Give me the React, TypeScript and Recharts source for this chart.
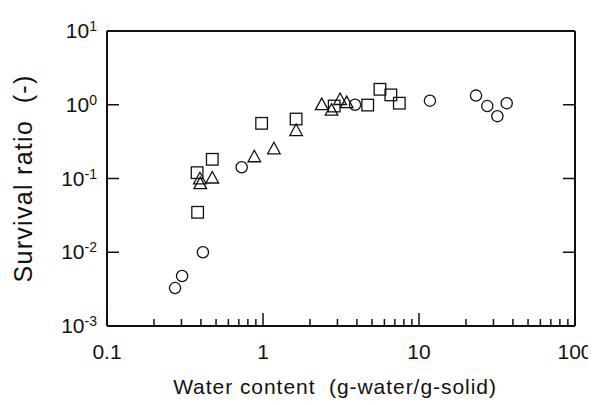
import React from "react";
import { ScatterChart, Scatter, XAxis, YAxis } from "recharts";

const circles = [
  { x: 0.273, y: 0.00327 },
  { x: 0.303, y: 0.00476 },
  { x: 0.412, y: 0.01 },
  { x: 0.73, y: 0.142 },
  { x: 3.89, y: 1.0 },
  { x: 11.75, y: 1.135 },
  { x: 23.2, y: 1.33 },
  { x: 27.4, y: 0.96 },
  { x: 31.8, y: 0.7 },
  { x: 36.5, y: 1.05 },
];

const squares = [
  { x: 0.381, y: 0.0348 },
  { x: 0.378, y: 0.12 },
  { x: 0.473, y: 0.182 },
  { x: 0.98, y: 0.56 },
  { x: 1.63, y: 0.64 },
  { x: 2.86, y: 0.96 },
  { x: 4.69, y: 0.99 },
  { x: 5.62, y: 1.62 },
  { x: 6.6, y: 1.36 },
  { x: 7.48, y: 1.05 },
];

const triangles = [
  { x: 0.394, y: 0.0975 },
  { x: 0.396, y: 0.084 },
  { x: 0.473, y: 0.1 },
  { x: 0.88, y: 0.194 },
  { x: 1.175, y: 0.249 },
  { x: 1.63, y: 0.44 },
  { x: 2.38, y: 0.99 },
  { x: 2.75, y: 0.83 },
  { x: 3.12, y: 1.16 },
  { x: 3.44, y: 1.05 },
];

const xTicks = [
  0.1, 0.2, 0.3, 0.4, 0.5, 0.6, 0.7, 0.8, 0.9,
  1, 2, 3, 4, 5, 6, 7, 8, 9,
  10, 20, 30, 40, 50, 60, 70, 80, 90, 100,
];
const xMajor = [0.1, 1, 10, 100];
const xMajorLabels = ["0.1", "1", "10", "100"];
const yTicks = [0.001, 0.01, 0.1, 1, 10];
const yExponents = ["-3", "-2", "-1", "0", "1"];

const FONT = "'Liberation Sans', Arial, Helvetica, sans-serif";
const INK = "#111";

const isMajor = (v: number) => xMajor.some((m) => Math.abs(m - v) < 1e-9);

const BottomTick = (props: any) => {
  const { x, y, payload } = props;
  const v = payload.value;
  const major = isMajor(v);
  const idx = xMajor.findIndex((m) => Math.abs(m - v) < 1e-9);
  return (
    <g>
      <line x1={x} x2={x} y1={y} y2={y - (major ? 13 : 7)} stroke={INK} strokeWidth={1.5} />
      {major && (
        <text x={x} y={y + 33} textAnchor="middle" fontSize={21} fontFamily={FONT} fill={INK}>
          {xMajorLabels[idx]}
        </text>
      )}
    </g>
  );
};

const TopTick = (props: any) => {
  const { x, y, payload } = props;
  const major = isMajor(payload.value);
  return <line x1={x} x2={x} y1={y} y2={y + (major ? 13 : 7)} stroke={INK} strokeWidth={1.5} />;
};

const LeftTick = (props: any) => {
  const { x, y, payload } = props;
  const idx = yTicks.findIndex((t) => Math.abs(t - payload.value) / t < 1e-6);
  return (
    <g>
      <line x1={x} x2={x + 12} y1={y} y2={y} stroke={INK} strokeWidth={1.5} />
      <text x={x - 10} y={y + 7} textAnchor="end" fontFamily={FONT} fill={INK}>
        <tspan fontSize={21}>10</tspan>
        <tspan fontSize={14} dy={-7}>{yExponents[idx]}</tspan>
      </text>
    </g>
  );
};

const RightTick = (props: any) => {
  const { x, y } = props;
  return <line x1={x} x2={x - 12} y1={y} y2={y} stroke={INK} strokeWidth={1.5} />;
};

const CircleShape = (props: any) => (
  <circle cx={props.cx} cy={props.cy} r={5.6} fill="none" stroke={INK} strokeWidth={1.3} />
);
const SquareShape = (props: any) => (
  <rect x={props.cx - 5.8} y={props.cy - 5.8} width={11.6} height={11.6} fill="none" stroke={INK} strokeWidth={1.3} />
);
const TriangleShape = (props: any) => {
  const { cx, cy } = props;
  const pts = `${cx},${cy - 7} ${cx - 6.3},${cy + 4.5} ${cx + 6.3},${cy + 4.5}`;
  return <polygon points={pts} fill="none" stroke={INK} strokeWidth={1.3} />;
};

export default function App() {
  return (
    <ScatterChart width={588} height={397} margin={{ top: 22, right: 20, bottom: 0, left: 0 }}>
      <XAxis
        xAxisId="bottom"
        dataKey="x"
        type="number"
        scale="log"
        domain={[0.1, 100]}
        allowDataOverflow
        ticks={xTicks}
        interval={0}
        tickSize={0}
        tickMargin={0}
        tickLine={false}
        tick={BottomTick}
        height={79}
        axisLine={{ stroke: INK, strokeWidth: 2 }}
        label={{
          value: "Water content \u00A0(g-water/g-solid)",
          position: "insideBottom",
          offset: 11,
          dx: -6,
          style: { fontSize: 21, fontFamily: FONT, fill: INK, letterSpacing: 0.95 },
        }}
      />
      <XAxis
        xAxisId="top"
        orientation="top"
        type="number"
        scale="log"
        domain={[0.1, 100]}
        allowDataOverflow
        ticks={xTicks}
        interval={0}
        tickSize={0}
        tickMargin={0}
        tickLine={false}
        tick={TopTick}
        height={1}
        axisLine={{ stroke: INK, strokeWidth: 2 }}
      />
      <YAxis
        yAxisId="left"
        dataKey="y"
        type="number"
        scale="log"
        domain={[0.001, 10]}
        allowDataOverflow
        ticks={yTicks}
        interval={0}
        tickSize={0}
        tickMargin={0}
        tickLine={false}
        tick={LeftTick}
        width={99}
        axisLine={{ stroke: INK, strokeWidth: 2 }}
        label={{
          value: "Survival ratio \u00A0(-)",
          angle: -90,
          position: "insideLeft",
          offset: 15,
          style: { textAnchor: "middle", fontSize: 25, fontFamily: FONT, fill: INK, letterSpacing: 1.3 },
        }}
      />
      <YAxis
        yAxisId="right"
        orientation="right"
        type="number"
        scale="log"
        domain={[0.001, 10]}
        allowDataOverflow
        ticks={yTicks}
        interval={0}
        tickSize={0}
        tickMargin={0}
        tickLine={false}
        tick={RightTick}
        width={1}
        axisLine={{ stroke: INK, strokeWidth: 2 }}
      />
      <Scatter data={circles} xAxisId="bottom" yAxisId="left" shape={CircleShape} isAnimationActive={false} />
      <Scatter data={squares} xAxisId="bottom" yAxisId="left" shape={SquareShape} isAnimationActive={false} />
      <Scatter data={triangles} xAxisId="bottom" yAxisId="left" shape={TriangleShape} isAnimationActive={false} />
    </ScatterChart>
  );
}
